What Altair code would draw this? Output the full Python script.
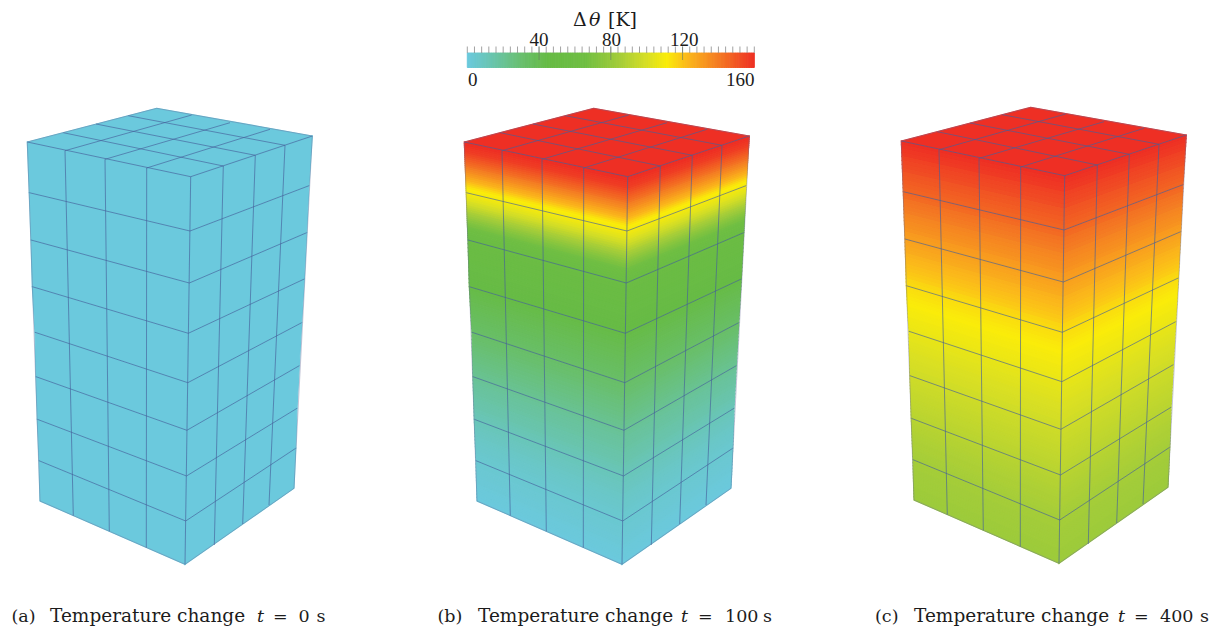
import altair as alt
import numpy as np
import pandas as pd

alt.data_transformers.disable_max_rows()

# ---- colour map of the bar (delta theta in K -> colour)
CMAP_T = [0, 12, 30, 45, 65, 85, 100, 111, 122, 140, 160]
CMAP_C = ["#6bc9dd", "#69c5b4", "#69bf6e", "#67bb45", "#6fbe43", "#a5cd39", "#d8df24",
          "#faec0a", "#fbb91b", "#f47a23", "#ee2f24"]

# ---- mesh nodes read from the first block (levels 0..8 down three vertical edges)
LEFT_X = [27.3, 29.3, 31.0, 32.3, 35.0, 36.0, 37.3, 39.0, 40.0]
LEFT_Y = [142.0, 192.7, 240.0, 286.7, 332.3, 376.7, 419.3, 460.7, 501.0]
FRONT_X = [190.7, 190.0, 189.3, 188.3, 187.8, 186.9, 186.5, 185.7, 185.0]
FRONT_Y = [176.7, 231.0, 283.0, 333.3, 382.7, 430.3, 476.0, 521.0, 564.3]
RIGHT_X = [312.3, 309.0, 306.7, 304.3, 301.7, 299.3, 297.0, 295.7, 294.0]
RIGHT_Y = [136.0, 185.7, 232.7, 279.0, 322.7, 365.7, 408.3, 448.3, 488.3]
BACK = (156.7, 108.3)
# inner vertical lines (top node, bottom node)
COL_TOP_L = [(65.0, 150.7), (105.0, 159.3), (146.7, 168.0)]
COL_BOT_L = [(73.3, 515.7), (109.3, 531.3), (146.3, 547.7)]
COL_TOP_R = [(223.3, 166.0), (255.3, 155.3), (285.0, 145.3)]
COL_BOT_R = [(214.3, 545.0), (242.7, 524.0), (269.0, 505.0)]
# nodes on the two back edges of the top face
BACK_L = [(63.3, 132.7), (96.0, 124.0), (128.3, 115.7)]
BACK_R = [(191.7, 115.0), (230.0, 122.7), (270.0, 129.3)]

PANEL_DX = [0, 437, 874]
PANEL_DY = [0, 0, -1]
TOP_T = [0, 160, 160]

# ---- temperature read down the block, band by band, for the three panels
BANDS_A = [[0], [0], [0], [0], [0], [0], [0], [0]]
BANDS_B = [
    [160, 160, 159, 158, 157, 156, 154, 152, 150, 148, 146, 144, 142, 139, 137, 135, 132, 130, 127, 125, 122, 119, 116, 113, 111, 110],
    [109, 107, 105, 103, 100, 98, 95, 92, 89, 86, 83, 80, 77, 74, 71, 69, 66, 64, 62, 60, 58, 56],
    [55, 54, 53.5, 53, 52, 51, 50, 49, 48, 47, 46, 45],
    [44, 43, 42, 41, 40, 39, 38, 37, 36, 35, 34, 33],
    [32, 31, 30, 29, 28, 27, 26, 25, 24, 23, 22, 21],
    [20, 19, 18, 17.5, 17, 16, 15, 14.5, 14, 13, 12, 11],
    [10.5, 10, 9, 8.5, 8, 7, 6.5, 6, 5.5, 5, 4.5, 4],
    [3.5, 3.5, 3, 3, 2.5, 2, 2, 1.5, 1, 1, 0.5, 0],
]
BANDS_C = [
    [160, 159, 158, 157, 155, 154, 153, 152, 150, 149, 148, 147, 146],
    [145, 144, 142, 141, 140, 139, 137, 136, 135, 134, 133, 131, 130],
    [129, 128, 127, 126, 124, 123, 122, 121, 120, 119, 118, 116, 115],
    [114, 113.5, 113, 112, 111.5, 111, 110, 109.5, 109, 108, 107.5, 107, 106],
    [105, 104.5, 104, 103, 102.5, 102, 101, 100.5, 100, 99.5, 99, 98, 97.5],
    [97, 96.5, 96, 95.5, 95, 94.5, 94, 93.5, 93, 92.5, 92, 91.5, 91],
    [90.5, 90, 89.5, 89, 88.5, 88, 87.5, 87, 87, 86.5, 86, 85.5, 85],
    [85, 84.5, 84.5, 84, 84, 83.5, 83.5, 83, 83, 82.5, 82.5, 82, 82],
]
PANEL_BANDS = [BANDS_A, BANDS_B, BANDS_C]

# ---- texts
LB = 622
LABEL = [
    ("(a)", 11.5, LB, 17.5), ("Temperature change", 50, LB, 18.5), ("=", 273, LB, 17.5), ("0", 298.5, LB, 17.5), ("s", 316.5, LB, 17.5),
    ("(b)", 437.5, LB, 17.5), ("Temperature change", 478, LB, 18.5), ("=", 698, LB, 17.5), ("100", 725, LB, 17.5), ("s", 763, LB, 17.5),
    ("(c)", 875, LB, 17.5), ("Temperature change", 914, LB, 18.5), ("=", 1134, LB, 17.5), ("400", 1160, LB, 17.5), ("s", 1200, LB, 17.5),
    ("\u0394", 573, 25.5, 19), ("[K]", 608, 25.5, 19),
]
LABEL_IT = [("t", 257, LB, 17.5), ("t", 681, LB, 17.5), ("t", 1118, LB, 17.5), ("\u03b8", 589, 25.5, 19)]
BAR_TXT = [
    ("40", 529.5, 46, 19), ("80", 602, 46, 19), ("120", 670, 46, 19),
    ("0", 468, 86, 19), ("160", 726, 86, 19),
]

BAR_MAJOR = [40, 80, 120]
BAR_MINOR = list(range(0, 161, 4))
BAR_V = list(range(0, 160))

# ---- build strips as polygons
features = []
levels = np.arange(9)


def ends(s, xs, ys):
    return float(np.interp(s, levels, xs)), float(np.interp(s, levels, ys))


def poly(pts, t):
    ring = [[p[0], p[1]] for p in pts] + [[pts[0][0], pts[0][1]]]
    features.append({"type": "Feature", "geometry": {"type": "Polygon", "coordinates": [ring]},
                     "properties": {"t": t}})


for bands, dx, dy, top in zip(PANEL_BANDS, PANEL_DX, PANEL_DY, TOP_T):
    sh = lambda p: (p[0] + dx, p[1] + dy)
    for b, vals in enumerate(bands):
        n = len(vals)
        for k, t in enumerate(vals):
            s0, s1 = b + k / n, b + (k + 1) / n
            for A, B in (((LEFT_X, LEFT_Y), (FRONT_X, FRONT_Y)), ((FRONT_X, FRONT_Y), (RIGHT_X, RIGHT_Y))):
                poly([sh(ends(s0, *A)), sh(ends(s0, *B)), sh(ends(s1, *B)), sh(ends(s1, *A))], t)
    poly([sh((LEFT_X[0], LEFT_Y[0])), sh(BACK), sh((RIGHT_X[0], RIGHT_Y[0])), sh((FRONT_X[0], FRONT_Y[0]))], top)

# ---- mesh lines
inner, outer = [], []


def seg(lst, p, q, dx, dy):
    lst.append({"x": p[0] + dx, "y": p[1] + dy, "x2": q[0] + dx, "y2": q[1] + dy})


for dx, dy in zip(PANEL_DX, PANEL_DY):
    L = list(zip(LEFT_X, LEFT_Y))
    F = list(zip(FRONT_X, FRONT_Y))
    R = list(zip(RIGHT_X, RIGHT_Y))
    for i in range(1, 8):
        seg(inner, L[i], F[i], dx, dy)
        seg(inner, F[i], R[i], dx, dy)
    seg(inner, L[0], F[0], dx, dy)
    seg(inner, F[0], R[0], dx, dy)
    seg(inner, F[0], F[8], dx, dy)
    seg(outer, L[8], F[8], dx, dy)
    seg(outer, F[8], R[8], dx, dy)
    seg(outer, L[0], L[8], dx, dy)
    seg(outer, R[0], R[8], dx, dy)
    seg(outer, L[0], BACK, dx, dy)
    seg(outer, BACK, R[0], dx, dy)
    for p, q in zip(COL_TOP_L, COL_BOT_L):
        seg(inner, p, q, dx, dy)
    for p, q in zip(COL_TOP_R, COL_BOT_R):
        seg(inner, p, q, dx, dy)
    # lines on the top face
    for p, q in zip(COL_TOP_L, BACK_R):
        seg(inner, p, q, dx, dy)
    for p, q in zip(BACK_L, COL_TOP_R):
        seg(inner, p, q, dx, dy)

W, H = 1203, 621
PX = alt.Scale(domain=[8, 8 + W], range=[0, W], nice=False, zero=False)
PY = alt.Scale(domain=[8, 8 + H], range=[0, H], nice=False, zero=False)
BAR = alt.Scale(domain=[0, 160], range=[459.3, 746.3], nice=False, zero=False)
CS = alt.Scale(domain=CMAP_T, range=CMAP_C, interpolate="rgb")

faces = alt.Chart(alt.Data(values=features)).mark_geoshape(strokeWidth=1.2).encode(
    fill=alt.Fill("properties.t:Q", scale=CS, legend=None),
    stroke=alt.Stroke("properties.t:Q", scale=CS, legend=None),
).project(type="identity", scale=1, translate=[-8, -8])


def rules(rows, color, width, op):
    return alt.Chart(pd.DataFrame(rows)).mark_rule(color=color, strokeWidth=width, opacity=op).encode(
        x=alt.X("x:Q", scale=PX, axis=None),
        x2="x2:Q",
        y=alt.Y("y:Q", scale=PY, axis=None),
        y2="y2:Q",
    )


def texts(rows, font, **kw):
    df = pd.DataFrame(rows, columns=["text", "x", "y", "size"])
    return alt.Chart(df).mark_text(font=font, align="left", baseline="alphabetic",
                                   color="#1c1c1c", **kw).encode(
        x=alt.X("x:Q", scale=PX, axis=None),
        y=alt.Y("y:Q", scale=PY, axis=None),
        size=alt.Size("size:Q", scale=None, legend=None),
        text="text:N",
    )


bar_df = pd.DataFrame({"v": BAR_V, "v2": [v + 1 for v in BAR_V], "y": 53.0, "y2": 67.5})
bar = alt.Chart(bar_df).mark_rect(strokeWidth=1.0).encode(
    x=alt.X("v:Q", scale=BAR, axis=None),
    x2="v2:Q",
    y=alt.Y("y:Q", scale=PY, axis=None),
    y2="y2:Q",
    fill=alt.Fill("v:Q", scale=CS, legend=None),
    stroke=alt.Stroke("v:Q", scale=CS, legend=None),
)
minor_df = pd.DataFrame({"v": BAR_MINOR, "y": 46.5, "y2": 53.0})
minor = alt.Chart(minor_df).mark_rule(color="#8a8a8a", strokeWidth=0.8).encode(
    x=alt.X("v:Q", scale=BAR, axis=None),
    y=alt.Y("y:Q", scale=PY, axis=None),
    y2="y2:Q",
)
major_df = pd.DataFrame({"v": BAR_MAJOR, "y": 46.5, "y2": 60.0})
major = alt.Chart(major_df).mark_rule(color="#6a7a6a", strokeWidth=0.8, opacity=0.8).encode(
    x=alt.X("v:Q", scale=BAR, axis=None),
    y=alt.Y("y:Q", scale=PY, axis=None),
    y2="y2:Q",
)

chart = alt.layer(
    faces,
    rules(inner, "#45609a", 0.9, 0.72),
    rules(outer, "#6a6f9c", 0.8, 0.5),
    bar, minor, major,
    texts(LABEL, "DejaVu Serif"),
    texts(LABEL_IT, "DejaVu Serif", fontStyle="italic"),
    texts(BAR_TXT, "Liberation Serif"),
).resolve_scale(x="independent").properties(
    width=W, height=H, padding=0,
    autosize=alt.AutoSizeParams(type="none"),
).configure_view(stroke=None)

chart.save("out.html", embed_options={"renderer": "svg", "actions": False})
